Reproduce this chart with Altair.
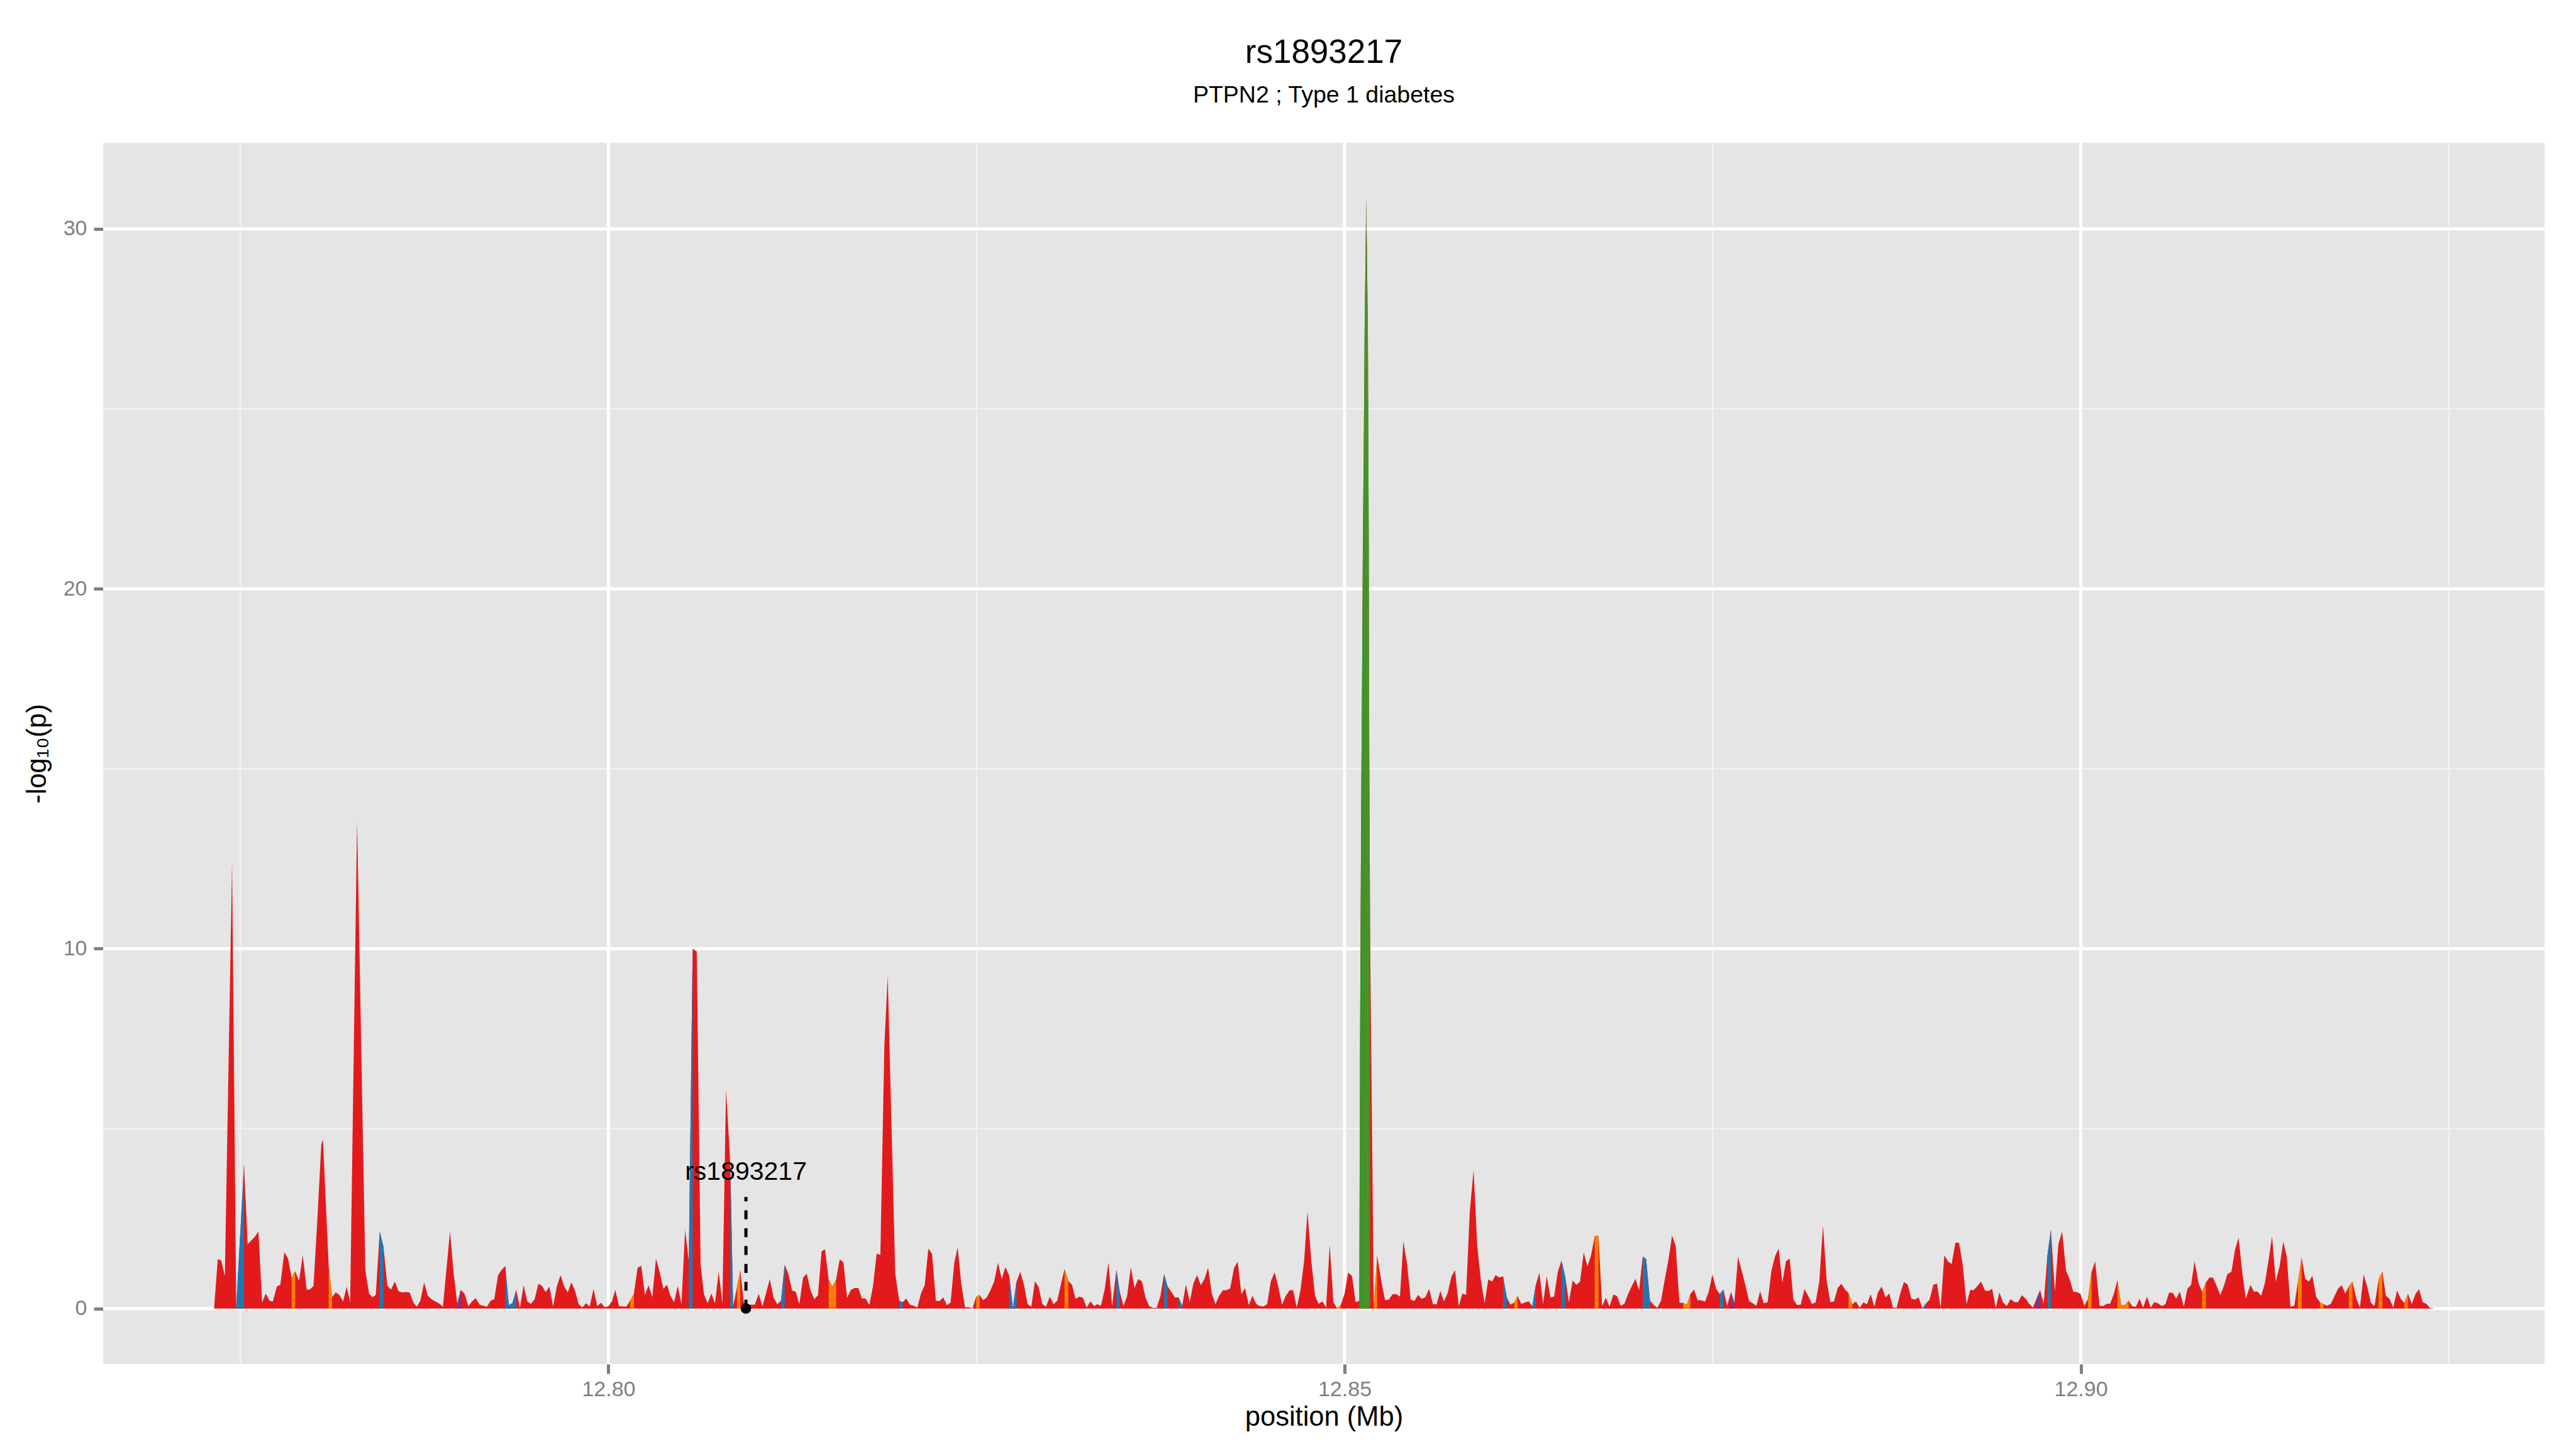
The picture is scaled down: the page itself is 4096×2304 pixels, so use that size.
import altair as alt
import pandas as pd

# ---------------- data ----------------
pos_a = [
    12.77322, 12.77347, 12.77370, 12.77395, 12.77444, 12.77472, 12.77525, 12.77550, 12.77598, 12.77623,
    12.77648, 12.77673, 12.77698, 12.77721, 12.77748, 12.77772, 12.77799, 12.77824, 12.77849, 12.77872,
    12.77899, 12.77924, 12.77951, 12.77972, 12.77997, 12.78023, 12.78050, 12.78061, 12.78100, 12.78123,
    12.78148, 12.78173, 12.78198, 12.78223, 12.78246, 12.78293, 12.78349, 12.78374, 12.78397, 12.78420,
    12.78447, 12.78472, 12.78499, 12.78524, 12.78549, 12.78575, 12.78600, 12.78625, 12.78650, 12.78675,
    12.78698, 12.78723, 12.78748, 12.78773, 12.78798, 12.78823, 12.78849, 12.78876, 12.78924, 12.78949,
    12.78974, 12.78997, 12.79022, 12.79049, 12.79074, 12.79099, 12.79125, 12.79150, 12.79175, 12.79200,
    12.79225, 12.79250, 12.79275, 12.79300, 12.79323, 12.79348, 12.79374, 12.79399, 12.79424, 12.79449,
    12.79474, 12.79499, 12.79524, 12.79549, 12.79574, 12.79599, 12.79624, 12.79650, 12.79675, 12.79700,
    12.79724, 12.79748, 12.79773, 12.79798, 12.79823, 12.79848, 12.79873, 12.79899, 12.79924, 12.79949,
    12.79974, 12.79999, 12.80024, 12.80047, 12.80072, 12.80097, 12.80122, 12.80147, 12.80173, 12.80198,
    12.80223, 12.80248, 12.80273, 12.80298,
]
logp_a = [
    0.02, 1.37, 1.34, 0.91, 12.40, 0.02, 4.01, 1.79, 1.99, 2.14,
    0.17, 0.42, 0.22, 0.20, 0.61, 0.67, 1.57, 1.39, 0.85, 1.04,
    0.77, 1.49, 0.53, 0.53, 0.63, 2.46, 4.55, 4.70, 1.20, 0.32,
    0.45, 0.38, 0.20, 0.61, 0.17, 13.55, 1.07, 0.42, 0.32, 0.38,
    2.14, 1.72, 0.63, 0.53, 0.75, 0.48, 0.45, 0.46, 0.45, 0.17,
    0.05, 0.22, 0.73, 0.36, 0.26, 0.20, 0.15, 0.05, 2.14, 0.97,
    0.13, 0.52, 0.42, 0.07, 0.20, 0.29, 0.11, 0.08, 0.05, 0.22,
    0.26, 0.92, 1.08, 1.18, 0.10, 0.15, 0.52, 0.02, 0.65, 0.20,
    0.13, 0.26, 0.69, 0.63, 0.46, 0.61, 0.06, 0.62, 0.93, 0.61,
    0.45, 0.73, 0.50, 0.12, 0.03, 0.15, 0.06, 0.55, 0.07, 0.16,
    0.04, 0.06, 0.20, 0.52, 0.07, 0.06, 0.05, 0.22, 0.41, 1.13,
    1.19, 0.38, 0.65, 0.32,
]

pos_b = [
    12.80323, 12.80348, 12.80373, 12.80398, 12.80421, 12.80446, 12.80471, 12.80496, 12.80521, 12.80546,
    12.80572, 12.80600, 12.80626, 12.80649, 12.80674, 12.80699, 12.80724, 12.80749, 12.80774, 12.80799,
    12.80828, 12.80847, 12.80873, 12.80896, 12.80919, 12.80944, 12.80969, 12.80994, 12.81021, 12.81046,
    12.81071, 12.81096, 12.81122, 12.81147, 12.81172, 12.81197, 12.81222, 12.81247, 12.81272, 12.81297,
    12.81322, 12.81347, 12.81372, 12.81398, 12.81423, 12.81448, 12.81471, 12.81496, 12.81521, 12.81546,
    12.81571, 12.81596, 12.81621, 12.81647, 12.81672, 12.81697, 12.81722, 12.81747, 12.81772, 12.81797,
    12.81822, 12.81847, 12.81874, 12.81897, 12.81948, 12.81975, 12.81998, 12.82023, 12.82048, 12.82073,
    12.82098, 12.82123, 12.82148, 12.82173, 12.82198, 12.82224, 12.82249, 12.82274, 12.82299, 12.82324,
    12.82349, 12.82372, 12.82397, 12.82422, 12.82447, 12.82473, 12.82498, 12.82521, 12.82546, 12.82571,
    12.82596, 12.82621, 12.82646, 12.82671, 12.82696, 12.82722, 12.82747, 12.82772, 12.82797, 12.82822,
    12.82847, 12.82872, 12.82897, 12.82922, 12.82947, 12.82972, 12.82998, 12.83023, 12.83048, 12.83073,
    12.83098, 12.83123, 12.83148, 12.83173, 12.83198, 12.83223, 12.83248, 12.83274, 12.83299,
]
logp_b = [
    1.39, 1.02, 0.55, 0.66, 0.36, 0.18, 0.63, 0.13, 2.19, 1.30,
    10.00, 9.92, 1.22, 0.40, 0.15, 0.42, 0.15, 1.03, 0.15, 6.10,
    4.00, 0.05, 0.60, 1.07, 0.17, 0.11, 0.11, 0.11, 0.41, 0.06,
    0.43, 0.82, 0.30, 0.12, 0.22, 1.22, 0.97, 0.50, 0.47, 0.12,
    0.86, 0.97, 0.52, 0.26, 0.37, 1.59, 1.65, 0.80, 0.62, 0.80,
    1.37, 1.28, 0.30, 0.52, 0.57, 0.57, 0.28, 0.28, 0.10, 0.62,
    1.53, 1.49, 7.30, 9.25, 0.97, 0.22, 0.18, 0.28, 0.11, 0.08,
    0.03, 0.42, 0.65, 1.67, 1.52, 0.22, 0.21, 0.31, 0.09, 0.17,
    1.27, 1.70, 0.67, 0.04, 0.04, 0.01, 0.33, 0.38, 0.23, 0.32,
    0.52, 0.77, 1.28, 0.82, 1.15, 0.92, 0.02, 0.75, 1.02, 0.67,
    0.12, 0.05, 0.76, 0.60, 0.12, 0.05, 0.33, 0.12, 0.22, 0.67,
    1.10, 0.77, 0.67, 0.27, 0.33, 0.30, 0.03, 0.20, 0.07,
]

pos_c = [
    12.83320, 12.83345, 12.83370, 12.83396, 12.83421, 12.83450, 12.83473, 12.83498, 12.83523, 12.83548,
    12.83573, 12.83598, 12.83623, 12.83648, 12.83673, 12.83699, 12.83724, 12.83749, 12.83774, 12.83797,
    12.83822, 12.83847, 12.83872, 12.83897, 12.83922, 12.83948, 12.83973, 12.83998, 12.84023, 12.84048,
    12.84073, 12.84098, 12.84123, 12.84148, 12.84173, 12.84198, 12.84223, 12.84249, 12.84274, 12.84299,
    12.84324, 12.84349, 12.84374, 12.84399, 12.84424, 12.84449, 12.84474, 12.84499, 12.84525, 12.84550,
    12.84575, 12.84600, 12.84625, 12.84650, 12.84675, 12.84700, 12.84725, 12.84748, 12.84774, 12.84799,
    12.84824, 12.84849, 12.84874, 12.84899, 12.84924, 12.84949, 12.84974, 12.84999, 12.85024, 12.85050,
    12.85075, 12.85100, 12.85105, 12.85113, 12.85119, 12.85124, 12.85131, 12.85136, 12.85147, 12.85158,
    12.85164, 12.85167, 12.85173, 12.85198, 12.85221, 12.85250, 12.85275, 12.85300, 12.85326, 12.85351,
    12.85376, 12.85399, 12.85424, 12.85449, 12.85474, 12.85499, 12.85524, 12.85549, 12.85574, 12.85600,
    12.85625, 12.85650, 12.85675, 12.85700, 12.85725, 12.85750, 12.85775, 12.85800, 12.85825, 12.85850,
    12.85876, 12.85901, 12.85926, 12.85951, 12.85976, 12.86001, 12.86026, 12.86051, 12.86076, 12.86101,
    12.86126, 12.86152, 12.86175, 12.86200, 12.86225, 12.86250, 12.86275,
]
logp_c = [
    0.12, 0.08, 0.52, 1.28, 0.07, 1.08, 0.47, 0.08, 0.35, 1.15,
    0.57, 0.82, 0.76, 0.30, 0.07, 0.02, 0.02, 0.35, 0.96, 0.62,
    0.47, 0.31, 0.31, 0.08, 0.67, 0.18, 0.70, 0.93, 0.65, 0.82,
    1.14, 0.42, 0.12, 0.36, 0.51, 0.51, 0.56, 1.13, 1.30, 0.40,
    0.57, 0.10, 0.36, 0.13, 0.07, 0.06, 0.12, 0.76, 1.01, 0.60,
    0.11, 0.35, 0.50, 0.52, 0.03, 0.50, 1.32, 2.69, 1.32, 0.36,
    0.13, 0.20, 0.03, 1.77, 0.18, 0.01, 0.10, 0.40, 1.00, 0.91,
    0.18, 0.22, 7.50, 14.25, 17.75, 21.25, 24.30, 27.20, 30.85, 27.20,
    21.25, 15.80, 10.50, 0.05, 1.47, 0.75, 0.23, 0.25, 0.40, 0.40,
    0.33, 1.87, 1.24, 0.25, 0.21, 0.38, 0.27, 0.32, 0.55, 0.12,
    0.12, 0.49, 0.20, 0.43, 0.88, 1.07, 0.07, 0.42, 0.38, 2.69,
    3.85, 1.74, 0.77, 0.15, 0.81, 0.75, 0.93, 0.86, 0.90, 0.32,
    0.11, 0.17, 0.35, 0.13, 0.17, 0.20, 0.07,
]

pos_d = [
    12.86298, 12.86323, 12.86348, 12.86373, 12.86398, 12.86423, 12.86448, 12.86473, 12.86498, 12.86523,
    12.86549, 12.86574, 12.86599, 12.86624, 12.86649, 12.86674, 12.86699, 12.86724, 12.86749, 12.86774,
    12.86799, 12.86825, 12.86850, 12.86875, 12.86900, 12.86925, 12.86950, 12.86975, 12.87000, 12.87025,
    12.87048, 12.87074, 12.87099, 12.87124, 12.87149, 12.87174, 12.87199, 12.87224, 12.87249, 12.87274,
    12.87299, 12.87324, 12.87348, 12.87373, 12.87398, 12.87423, 12.87448, 12.87473, 12.87498, 12.87523,
    12.87548, 12.87573, 12.87598, 12.87624, 12.87647, 12.87672, 12.87697, 12.87722, 12.87747, 12.87772,
    12.87797, 12.87822, 12.87847, 12.87873, 12.87898, 12.87923, 12.87948, 12.87973, 12.87998, 12.88023,
    12.88048, 12.88073, 12.88098, 12.88123, 12.88149, 12.88174, 12.88199, 12.88224, 12.88249, 12.88274,
    12.88299, 12.88324, 12.88349, 12.88374, 12.88399, 12.88423, 12.88448, 12.88473, 12.88498, 12.88523,
    12.88548, 12.88573, 12.88598, 12.88623, 12.88648, 12.88674, 12.88699, 12.88724, 12.88749, 12.88774,
    12.88799, 12.88824, 12.88849, 12.88874, 12.88899, 12.88924, 12.88948, 12.88973, 12.88998, 12.89023,
    12.89048, 12.89073, 12.89098, 12.89123, 12.89148, 12.89173, 12.89198, 12.89224, 12.89249,
]
logp_d = [
    0.65, 1.00, 0.13, 0.90, 0.31, 0.33, 1.02, 1.33, 0.90, 0.18,
    0.78, 0.66, 0.75, 1.56, 1.17, 1.48, 2.02, 2.02, 0.07, 0.30,
    0.05, 0.39, 0.35, 0.08, 0.13, 0.40, 0.62, 0.83, 0.51, 1.45,
    1.37, 0.22, 0.10, 0.02, 0.22, 0.80, 1.34, 2.03, 1.73, 0.16,
    0.16, 0.11, 0.40, 0.53, 0.23, 0.23, 0.19, 0.47, 0.95, 0.55,
    0.40, 0.53, 0.08, 0.46, 0.16, 1.44, 1.05, 0.65, 0.21, 0.15,
    0.08, 0.48, 0.15, 0.18, 1.03, 1.45, 1.67, 0.72, 1.32, 1.39,
    0.25, 0.10, 0.11, 0.54, 0.35, 0.13, 0.17, 0.75, 2.31, 0.77,
    0.18, 0.20, 0.57, 0.69, 0.53, 0.43, 0.12, 0.20, 0.02, 0.17,
    0.12, 0.40, 0.05, 0.46, 0.61, 0.31, 0.42, 0.03, 0.02, 0.42,
    0.74, 0.67, 0.28, 0.25, 0.31, 0.01, 0.14, 0.25, 0.66, 0.70,
    0.03, 1.48, 1.31, 1.24, 1.83, 1.83, 1.22, 0.12, 0.52,
]

pos_e = [
    12.89271, 12.89296, 12.89323, 12.89349, 12.89374, 12.89398, 12.89423, 12.89447, 12.89472, 12.89497,
    12.89523, 12.89550, 12.89574, 12.89599, 12.89625, 12.89650, 12.89675, 12.89699, 12.89724, 12.89748,
    12.89773, 12.89797, 12.89824, 12.89848, 12.89873, 12.89900, 12.89924, 12.89949, 12.89973, 12.89998,
    12.90024, 12.90049, 12.90073, 12.90098, 12.90127, 12.90151, 12.90176, 12.90200, 12.90225, 12.90249,
    12.90274, 12.90299, 12.90325, 12.90350, 12.90374, 12.90399, 12.90423, 12.90450, 12.90475, 12.90499,
    12.90524, 12.90550, 12.90575, 12.90599, 12.90624, 12.90648, 12.90673, 12.90700, 12.90724, 12.90749,
    12.90773, 12.90800, 12.90824, 12.90849, 12.90873, 12.90898, 12.90923, 12.90947, 12.90972, 12.90996,
    12.91023, 12.91047, 12.91072, 12.91096, 12.91121, 12.91152, 12.91176, 12.91201, 12.91225, 12.91250,
    12.91275, 12.91299, 12.91324, 12.91350, 12.91375, 12.91399, 12.91424, 12.91450, 12.91475, 12.91500,
    12.91524, 12.91549, 12.91573, 12.91598, 12.91624, 12.91649, 12.91673, 12.91698, 12.91723, 12.91747,
    12.91772, 12.91796, 12.91821, 12.91845, 12.91872, 12.91896, 12.91921, 12.91946, 12.91970, 12.91995,
    12.92023, 12.92048, 12.92072, 12.92097, 12.92122, 12.92148, 12.92173, 12.92197, 12.92222, 12.92248,
    12.92273, 12.92297, 12.92322, 12.92347, 12.92371, 12.92396,
]
logp_e = [
    0.51, 0.62, 0.75, 0.50, 0.49, 0.55, 0.02, 0.45, 0.17, 0.07,
    0.26, 0.18, 0.18, 0.37, 0.28, 0.13, 0.03, 0.27, 0.51, 0.13,
    1.47, 2.19, 0.48, 1.79, 2.14, 1.05, 0.82, 0.47, 0.46, 0.41,
    0.08, 0.27, 1.02, 1.31, 0.08, 0.07, 0.13, 0.14, 0.42, 0.79,
    0.10, 0.10, 0.22, 0.06, 0.05, 0.27, 0.03, 0.33, 0.03, 0.18,
    0.15, 0.07, 0.12, 0.44, 0.44, 0.28, 0.47, 0.05, 0.55, 0.66,
    1.32, 0.70, 0.47, 0.72, 0.86, 0.86, 0.63, 0.38, 0.63, 0.96,
    1.02, 1.63, 1.97, 1.02, 0.28, 0.66, 0.47, 0.47, 0.36, 0.70,
    1.34, 2.01, 0.75, 1.17, 1.86, 1.44, 0.05, 0.08, 0.75, 1.42,
    0.83, 0.75, 0.91, 0.33, 0.18, 0.12, 0.08, 0.13, 0.35, 0.55,
    0.65, 0.42, 0.62, 0.75, 0.27, 0.03, 0.95, 0.60, 0.16, 0.07,
    0.82, 1.03, 0.36, 0.27, 0.03, 0.50, 0.27, 0.16, 0.41, 0.13,
    0.40, 0.54, 0.18, 0.13, 0.02, 0.01,
]

# SNP positions whose segment (from the previous SNP) is drawn in another colour
green_snps = [12.85105, 12.85113, 12.85119, 12.85124, 12.85131, 12.85136, 12.85147,
              12.85158, 12.85164, 12.85167, 12.85173]
blue_snps = [12.77525, 12.78472, 12.79323, 12.79348, 12.79374, 12.80572, 12.80847, 12.81197,
             12.81998, 12.82747, 12.82772, 12.83473, 12.83797, 12.83897, 12.86101, 12.86298,
             12.86498, 12.87048, 12.87074, 12.87573, 12.88948, 12.89797]
orange_snps = [12.77872, 12.78123, 12.80173, 12.80896, 12.81521, 12.81546, 12.82521, 12.83123,
               12.84974, 12.85221, 12.86175, 12.86724, 12.87324, 12.87348, 12.88448, 12.90073,
               12.90274, 12.90299, 12.90325, 12.90849, 12.91500, 12.91649, 12.91845, 12.92048,
               12.92222]
purple_snps = [12.78997, 12.87647, 12.89724]

cat_names = ["red", "blue", "green", "orange", "purple"]
cat_colors = ["#E31A1C", "#1F78B4", "#33A02C", "#FF7F00", "#6A3D9A"]

# highlighted SNP annotation
label_snp = ["rs1893217"]
label_pos = [12.80934]
label_logp = [0.0]
label_line_top = [3.1]
label_text_y = [3.58]

title_text = "rs1893217"
subtitle_text = "PTPN2 ; Type 1 diabetes"
x_title = "position (Mb)"
y_title = "-log\u2081\u2080(p)"
x_ticks = [12.80, 12.85, 12.90]
y_ticks = [0, 10, 20, 30]
x_minor = [12.775, 12.825, 12.875, 12.925]
y_minor = [5, 15, 25]

# ---------------- tables ----------------
positions = pos_a + pos_b + pos_c + pos_d + pos_e
logp = logp_a + logp_b + logp_c + logp_d + logp_e
assert len(positions) == len(logp)

color_of = {}
for name, lst in (("green", green_snps), ("blue", blue_snps),
                  ("orange", orange_snps), ("purple", purple_snps)):
    for p in lst:
        color_of[round(p, 5)] = name
cats = [color_of.get(round(p, 5), "red") for p in positions]

base_df = pd.DataFrame({"pos": positions, "logp": logp})

seg_rows = []
for i in range(1, len(positions)):
    if cats[i] != "red":
        seg_rows.append({"seg": i, "pos": positions[i - 1], "logp": logp[i - 1], "cat": cats[i]})
        seg_rows.append({"seg": i, "pos": positions[i], "logp": logp[i], "cat": cats[i]})
seg_df = pd.DataFrame(seg_rows)

lab_df = pd.DataFrame({"snp": label_snp, "pos": label_pos, "logp": label_logp,
                       "top": label_line_top, "ty": label_text_y})

# ---------------- chart ----------------
W, H = 3882, 1942
FONT = "Liberation Sans"
xs = alt.Scale(domain=[12.765683, 12.931497], nice=False, zero=False)
ys = alt.Scale(domain=[-1.5425, 32.3925], nice=False, zero=False)

x_axis = alt.Axis(values=x_ticks, format=".2f", title=x_title, titleX=W / 2, titleY=97,
                  titleAlign="center", titleBaseline="alphabetic", labelPadding=8)
y_axis = alt.Axis(values=y_ticks, format="d", title=y_title, titleX=-92, titleY=H / 2,
                  titleAngle=270, titleAlign="center", titleBaseline="alphabetic",
                  labelPadding=11)


def X(field):
    return alt.X(field, scale=xs, axis=x_axis)


def Y(field):
    return alt.Y(field, scale=ys, axis=y_axis, stack=None)


minor_x = alt.Chart(pd.DataFrame({"v": x_minor})).mark_rule(
    color="#F2F2F2", strokeWidth=2.5).encode(x=X("v:Q"))
minor_y = alt.Chart(pd.DataFrame({"v": y_minor})).mark_rule(
    color="#F2F2F2", strokeWidth=2.5).encode(y=Y("v:Q"))
major_x = alt.Chart(pd.DataFrame({"v": x_ticks})).mark_rule(
    color="#FFFFFF", strokeWidth=5).encode(x=X("v:Q"))
major_y = alt.Chart(pd.DataFrame({"v": y_ticks})).mark_rule(
    color="#FFFFFF", strokeWidth=5).encode(y=Y("v:Q"))

base_area = alt.Chart(base_df).mark_area(color="#E31A1C", strokeWidth=0).encode(
    x=X("pos:Q"),
    y=Y("logp:Q"),
    y2=alt.datum(0),
)

seg_area = alt.Chart(seg_df).mark_area(strokeWidth=0).encode(
    x=X("pos:Q"),
    y=Y("logp:Q"),
    y2=alt.datum(0),
    color=alt.Color("cat:N", scale=alt.Scale(domain=cat_names, range=cat_colors), legend=None),
    detail="seg:N",
)

dash = alt.Chart(lab_df).mark_rule(color="black", strokeWidth=5, strokeDash=[14.2, 14.2]).encode(
    x=X("pos:Q"),
    y=Y("logp:Q"),
    y2="top:Q",
)
dot = alt.Chart(lab_df).mark_circle(color="black", size=278, opacity=1).encode(
    x=X("pos:Q"),
    y=Y("logp:Q"),
)
label = alt.Chart(lab_df).mark_text(font=FONT, fontSize=41, color="black",
                                    align="center", baseline="alphabetic").encode(
    x=X("pos:Q"),
    y=Y("ty:Q"),
    text="snp:N",
)

chart = alt.layer(minor_x, minor_y, major_x, major_y, base_area, seg_area, dash, dot, label).properties(
    width=W,
    height=H,
    padding={"left": 156, "top": 219, "right": 30, "bottom": 110},
    autosize=alt.AutoSizeParams(type="none"),
    background="white",
    title=alt.TitleParams(
        text=title_text, subtitle=subtitle_text, anchor="middle",
        font=FONT, fontSize=53, fontWeight="normal", color="black",
        subtitleFont=FONT, subtitleFontSize=37.5, subtitleColor="black",
        offset=54, subtitlePadding=22,
    ),
).configure_view(
    fill="#E5E5E5", strokeWidth=0,
).configure_axis(
    grid=False, domain=False,
    tickColor="#7F7F7F", tickWidth=5, tickSize=15,
    labelColor="#7F7F7F", labelFont=FONT, labelFontSize=34,
    labelFlush=False, labelOverlap=False,
    titleColor="black", titleFont=FONT, titleFontSize=43.5, titleFontWeight="normal",
)

chart.save("out.html", embed_options={"renderer": "svg", "actions": False})
